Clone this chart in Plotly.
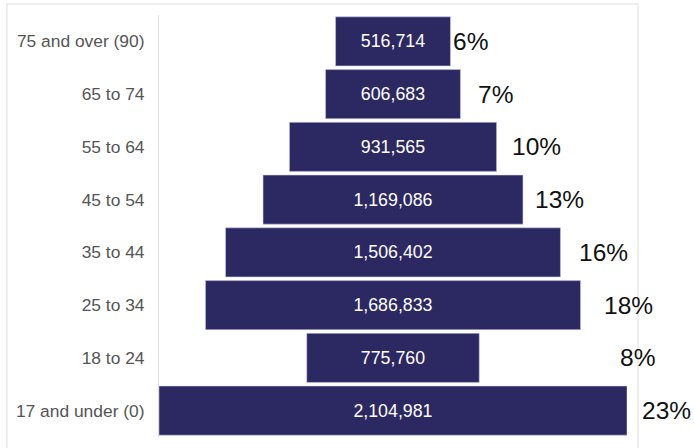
import plotly.graph_objects as go

# Age groups (top to bottom) and population counts
age_groups = ["75 and over (90)", "65 to 74", "55 to 64", "45 to 54",
              "35 to 44", "25 to 34", "18 to 24", "17 and under (0)"]
population = [516714, 606683, 931565, 1169086, 1506402, 1686833, 775760, 2104981]

# Pixel gap between each bar end and its share label
share_label_gap = [1, 16, 13, 10, 17, 21, 139, 13]

BAR_COLOR = "#2c2862"
FONT = "Liberation Sans, Arial, sans-serif"

total = sum(population)
shares = [f"{round(v / total * 100)}%" for v in population]
bar_text = [f"{v:,}" for v in population]
half = [v / 2 for v in population]
bases = [-h for h in half]

fig = go.Figure(go.Bar(
    y=age_groups,
    x=population,
    base=bases,
    orientation="h",
    marker=dict(color=BAR_COLOR, line=dict(color="rgba(200,198,225,0.55)", width=1)),
    text=bar_text,
    textposition="inside",
    insidetextanchor="middle",
    textfont=dict(color="white", size=17.8, family=FONT),
    hoverinfo="skip",
))

# Share labels to the right of each bar
for cat, h, s, gap in zip(age_groups, half, shares, share_label_gap):
    fig.add_annotation(
        x=h, y=cat, xref="x", yref="y", text=s, showarrow=False,
        xanchor="left", yanchor="middle", xshift=gap,
        font=dict(size=24.5, color="#111111", family=FONT),
    )

# Light frame around the chart
frame = "#dddddd"
fig.add_shape(type="line", xref="paper", yref="paper", x0=-0.325, x1=-0.325, y0=1.026, y1=-0.06,
              line=dict(color=frame, width=1))
fig.add_shape(type="line", xref="paper", yref="paper", x0=-0.325, x1=1.0235, y0=1.026, y1=1.026,
              line=dict(color=frame, width=1))
fig.add_shape(type="line", xref="paper", yref="paper", x0=1.0235, x1=1.0235, y0=1.026, y1=-0.06,
              line=dict(color=frame, width=1))

max_half = max(half)
fig.update_layout(
    width=694, height=448,
    margin=dict(l=159, r=67, t=15, b=10.5),
    paper_bgcolor="white", plot_bgcolor="white",
    bargap=0.07,
    showlegend=False,
    font=dict(family=FONT),
    uniformtext=dict(mode=False),
)
fig.update_xaxes(range=[-max_half, max_half], visible=False, fixedrange=True)
fig.update_yaxes(
    categoryorder="array", categoryarray=age_groups[::-1],
    showline=True, linecolor="#dddddd", linewidth=1,
    showgrid=False, zeroline=False, ticks="", ticklabelstandoff=10,
    tickfont=dict(size=17.4, color="#555555", family=FONT),
)

fig.write_html("out.html")
